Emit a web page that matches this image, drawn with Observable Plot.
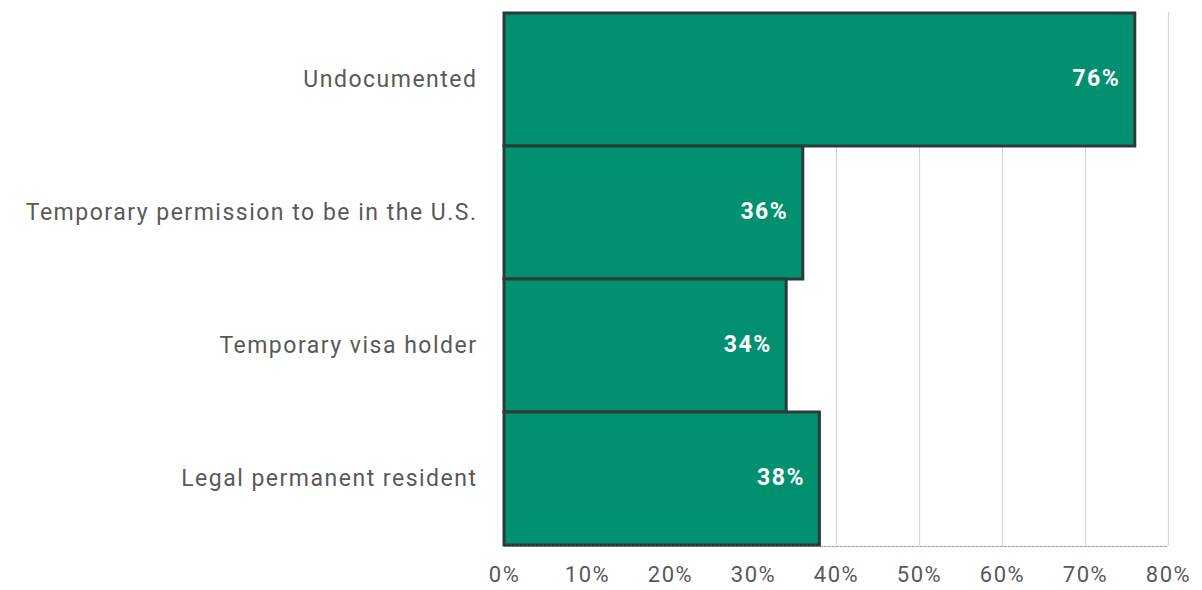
<!DOCTYPE html>
<html>
<head>
<meta charset="utf-8">
<script src="https://cdn.jsdelivr.net/npm/d3@7"></script>
<script src="https://cdn.jsdelivr.net/npm/@observablehq/plot@0.6"></script>
<style>
  body { margin: 0; background: #fff; }
  #chart svg { display: block; }
</style>
</head>
<body>
<div id="chart"></div>
<script>
const categories = ["Undocumented", "Temporary permission to be in the U.S.", "Temporary visa holder", "Legal permanent resident"];
const values = [76, 36, 34, 38];
const xTicks = [0, 10, 20, 30, 40, 50, 60, 70, 80];

const data = categories.map((c, i) => ({category: c, value: values[i]}));

const chart = Plot.plot({
  width: 1202,
  height: 590,
  marginLeft: 504,
  marginRight: 34,
  marginTop: 12,
  marginBottom: 44,
  style: {fontFamily: "Roboto, 'Liberation Sans', sans-serif", fontSize: "23px", color: "#595959", background: "#fff", letterSpacing: "1.5px"},
  x: {domain: [0, 80], ticks: xTicks, tickFormat: d => d + "%", tickSize: 0, tickPadding: 20, label: null},
  y: {domain: categories, padding: 0, tickSize: 0, tickPadding: 27, label: null},
  marks: [
    Plot.ruleX(xTicks, {stroke: "#d6d6d6", strokeWidth: 1.2}),
    Plot.frame({anchor: "bottom", stroke: "#9aa3a3", strokeDasharray: "2,2", strokeWidth: 1.2}),
    Plot.barX(data, {y: "category", x: "value", fill: "#029170", stroke: "#2b3a3a", strokeWidth: 3}),
    Plot.text(data, {y: "category", x: "value", text: d => d.value + "%", textAnchor: "end", dx: -15, dy: -1, fill: "#fff", fontWeight: "bold", fontSize: 23})
  ]
});
chart.querySelectorAll("[aria-label='x-axis tick label'] text").forEach(t => t.style.fontSize = "22px");
document.getElementById("chart").appendChild(chart);
</script>
</body>
</html>
